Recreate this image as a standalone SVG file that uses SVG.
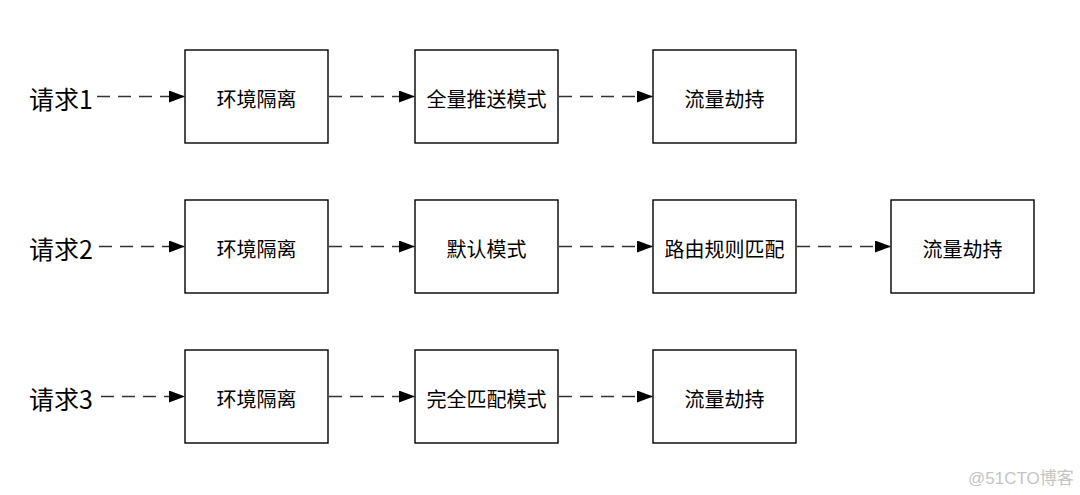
<svg xmlns="http://www.w3.org/2000/svg" width="1080" height="495" viewBox="0 0 1080 495">
<defs>
<marker id="arr" markerWidth="16" markerHeight="12" refX="15" refY="6" orient="auto" markerUnits="userSpaceOnUse">
<path d="M0,0 L16,6 L0,12 Z" fill="#000"/>
</marker>
<style>
.box{fill:#fff;stroke:#000;stroke-width:1.4}
.t{font-family:"Noto Sans CJK SC","Noto Sans",sans-serif;font-size:20px;fill:#000;text-anchor:middle;dominant-baseline:central}
.lbl{font-family:"Noto Sans CJK SC","Liberation Sans",sans-serif;font-size:25px;fill:#000;dominant-baseline:central}
.c{stroke:#333;stroke-width:1.6;stroke-dasharray:13 8;fill:none}
.wm{font-family:"Liberation Sans","Noto Sans CJK SC",sans-serif;font-size:17px;fill:#c4c4c4}
</style>
</defs>
<rect width="1080" height="495" fill="#fff"/>
<text class="lbl" x="29" y="98">请求1</text>
<text class="lbl" x="29" y="248">请求2</text>
<text class="lbl" x="29" y="398">请求3</text>
<g id="connectors">
<line class="c" x1="97" y1="96.5" x2="184" y2="96.5" marker-end="url(#arr)"/>
<line class="c" x1="329" y1="96.5" x2="414" y2="96.5" marker-end="url(#arr)"/>
<line class="c" x1="559" y1="96.5" x2="652" y2="96.5" marker-end="url(#arr)"/>
<line class="c" x1="99" y1="246.5" x2="184" y2="246.5" marker-end="url(#arr)"/>
<line class="c" x1="329" y1="246.5" x2="414" y2="246.5" marker-end="url(#arr)"/>
<line class="c" x1="559" y1="246.5" x2="652" y2="246.5" marker-end="url(#arr)"/>
<line class="c" x1="797" y1="246.5" x2="890" y2="246.5" marker-end="url(#arr)"/>
<line class="c" x1="101" y1="396.5" x2="184" y2="396.5" marker-end="url(#arr)"/>
<line class="c" x1="329" y1="396.5" x2="414" y2="396.5" marker-end="url(#arr)"/>
<line class="c" x1="559" y1="396.5" x2="652" y2="396.5" marker-end="url(#arr)"/>
</g>
<g id="r1n1"><rect class="box" x="185" y="50" width="143" height="93"/><text class="t" x="256.5" y="98">环境隔离</text></g>
<g id="r1n2"><rect class="box" x="415" y="50" width="143" height="93"/><text class="t" x="486.5" y="98">全量推送模式</text></g>
<g id="r1n3"><rect class="box" x="653" y="50" width="143" height="93"/><text class="t" x="724.5" y="98">流量劫持</text></g>
<g id="r2n1"><rect class="box" x="185" y="200" width="143" height="93"/><text class="t" x="256.5" y="248">环境隔离</text></g>
<g id="r2n2"><rect class="box" x="415" y="200" width="143" height="93"/><text class="t" x="486.5" y="248">默认模式</text></g>
<g id="r2n3"><rect class="box" x="653" y="200" width="143" height="93"/><text class="t" x="724.5" y="248">路由规则匹配</text></g>
<g id="r2n4"><rect class="box" x="891" y="200" width="143" height="93"/><text class="t" x="962.5" y="248">流量劫持</text></g>
<g id="r3n1"><rect class="box" x="185" y="350" width="143" height="93"/><text class="t" x="256.5" y="398">环境隔离</text></g>
<g id="r3n2"><rect class="box" x="415" y="350" width="143" height="93"/><text class="t" x="486.5" y="398">完全匹配模式</text></g>
<g id="r3n3"><rect class="box" x="653" y="350" width="143" height="93"/><text class="t" x="724.5" y="398">流量劫持</text></g>
<text class="wm" x="968" y="484">@51CTO博客</text>
</svg>
